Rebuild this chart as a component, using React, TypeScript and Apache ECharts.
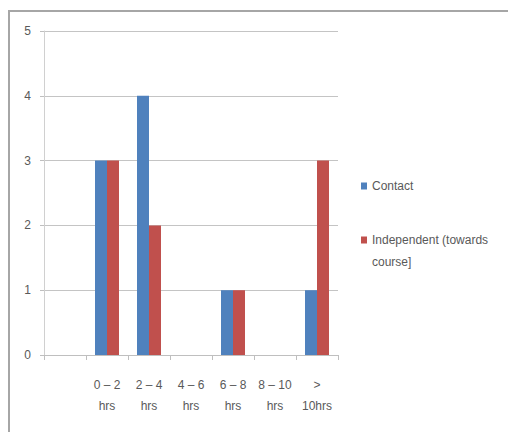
import React, { useEffect, useRef } from "react";
import * as echarts from "echarts";

const categories = ["", "0 – 2\nhrs", "2 – 4\nhrs", "4 – 6\nhrs", "6 – 8\nhrs", "8 – 10\nhrs", ">\n10hrs"];
const contactHours = [null, 3, 4, 0, 1, 0, 1];
const independentHours = [null, 3, 2, 0, 1, 0, 3];
const yTicks = { min: 0, max: 5, interval: 1 };
const seriesNames = ["Contact", "Independent (towards course]"];

const FONT = "'Liberation Sans', Arial, sans-serif";
const TEXT = "#595959";

export default function App() {
  const ref = useRef<HTMLDivElement>(null);

  useEffect(() => {
    if (!ref.current) return;
    const chart = echarts.init(ref.current, null, { renderer: "svg" });
    const legendBase = {
      left: 361,
      padding: 0,
      itemWidth: 6,
      itemHeight: 7,
      itemGap: 0,
      icon: "rect",
      textStyle: { fontFamily: FONT, fontSize: 12, color: TEXT, lineHeight: 14 },
    };
    chart.setOption({
      animation: false,
      backgroundColor: "#ffffff",
      textStyle: { fontFamily: FONT, color: TEXT },
      grid: { left: 44, right: 170, top: 31, bottom: 77, containLabel: false },
      legend: [
        { ...legendBase, data: [seriesNames[0]], top: 179 },
        // second entry wraps: first line beside the swatch, the rest below it
        { ...legendBase, data: [seriesNames[1]], top: 233, formatter: () => "Independent (towards" },
      ],
      xAxis: {
        type: "category",
        data: categories,
        axisLine: { lineStyle: { color: "#bfbfbf", width: 1 } },
        axisTick: { show: true, length: 5, lineStyle: { color: "#bfbfbf" } },
        axisLabel: {
          interval: 0,
          margin: 19,
          fontFamily: FONT,
          fontSize: 12,
          color: TEXT,
          lineHeight: 21,
        },
        splitLine: { show: false },
      },
      yAxis: {
        type: "value",
        min: yTicks.min,
        max: yTicks.max,
        interval: yTicks.interval,
        axisLine: { show: true, lineStyle: { color: "#d0d0d0", width: 1 } },
        axisTick: { show: true, length: 4, lineStyle: { color: "#bfbfbf" } },
        axisLabel: { margin: 13, fontFamily: FONT, fontSize: 12, color: TEXT },
        splitLine: { lineStyle: { color: "#c4c4c4", width: 1 } },
      },
      series: [
        {
          name: seriesNames[0],
          type: "bar",
          data: contactHours,
          barWidth: 12,
          barGap: "0%",
          itemStyle: { color: "#4F81BD" },
        },
        {
          name: seriesNames[1],
          type: "bar",
          data: independentHours,
          barWidth: 12,
          barGap: "0%",
          itemStyle: { color: "#C0504D" },
        },
      ],
      graphic: [
        { type: "line", shape: { x1: 8, y1: 11, x2: 508, y2: 11 }, style: { stroke: "#a6a6a6", lineWidth: 2 } },
        { type: "line", shape: { x1: 9, y1: 10, x2: 9, y2: 432 }, style: { stroke: "#a6a6a6", lineWidth: 2 } },
        {
          type: "text",
          x: 372,
          y: 262,
          style: { text: "course]", font: `12px ${FONT}`, fill: TEXT, verticalAlign: "middle", align: "left" },
        },
      ],
    });
    return () => chart.dispose();
  }, []);

  return <div ref={ref} style={{ position: "fixed", left: 0, top: 0, width: 508, height: 432 }} />;
}
